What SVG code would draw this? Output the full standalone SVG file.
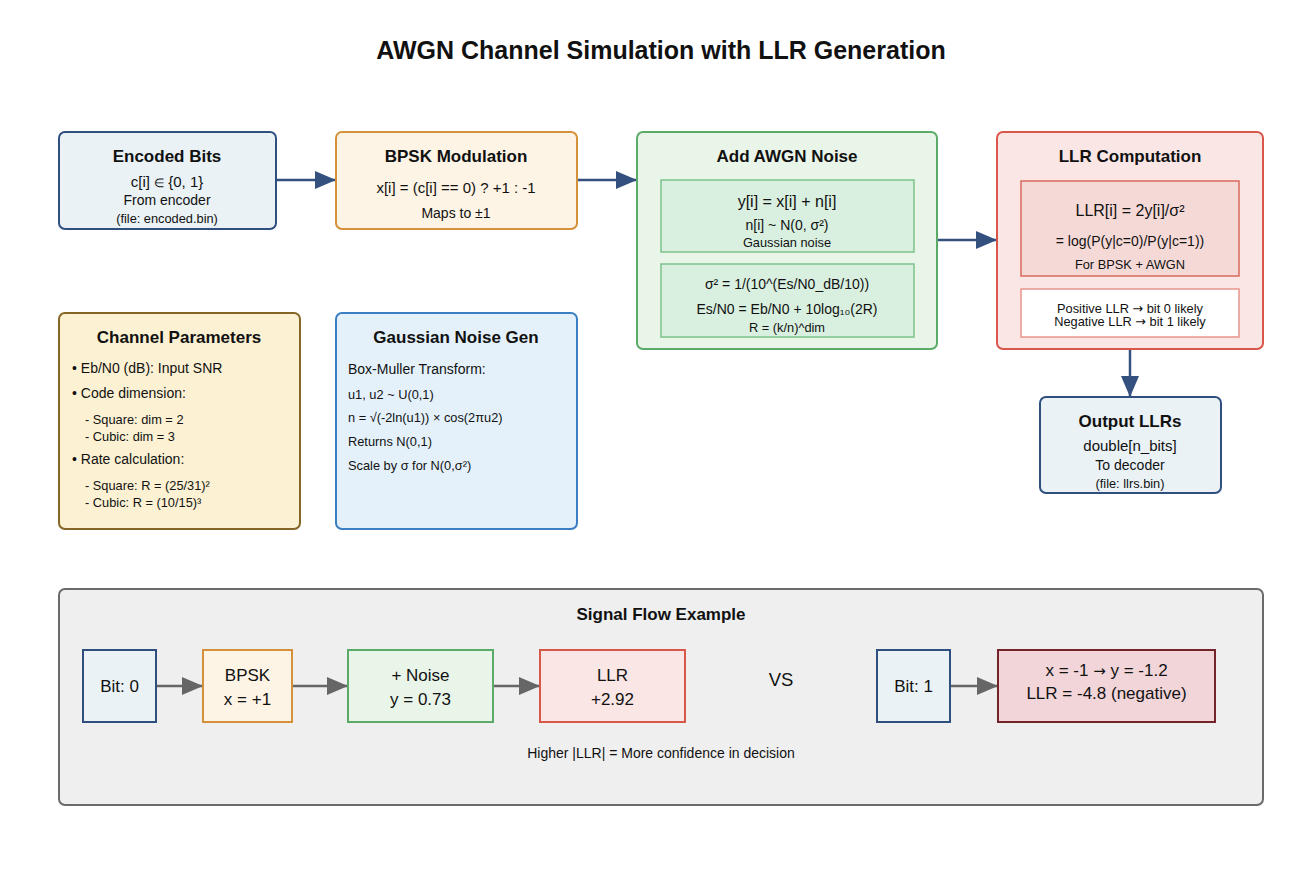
<svg xmlns="http://www.w3.org/2000/svg" width="1300" height="872" viewBox="0 0 1300 872">
<defs>
<style>
text{font-family:"Liberation Sans",Arial,sans-serif;fill:#111;text-anchor:middle}
.t{font-weight:bold;font-size:17px}
.h{font-weight:bold;font-size:25px}
.m{font-size:15px}
.s{font-size:14px}
.xs{font-size:12.8px}
.b{font-size:16px}
.l{text-anchor:start}
.ar{font-family:"DejaVu Sans",sans-serif}
.blue{fill:#eaf2f6;stroke:#2f4f7f;stroke-width:2}
.orange{fill:#fdf4e5;stroke:#d4913a;stroke-width:2}
.green{fill:#eaf5e9;stroke:#5aab68;stroke-width:2}
.red{fill:#fae6e4;stroke:#d9574a;stroke-width:2}
.gin{fill:#d9f0e0;stroke:#7cc28a;stroke-width:1.5}
.rin{fill:#f5d9d6;stroke:#d96a5c;stroke-width:1.5}
.win{fill:#fff;stroke:#e8958a;stroke-width:1.5}
.yel{fill:#fcf1d3;stroke:#856626;stroke-width:2}
.lb{fill:#e4f1fb;stroke:#3a7fc4;stroke-width:2}
.big{fill:#efefef;stroke:#6a6a6a;stroke-width:2}
.dred{fill:#f2d5d8;stroke:#74232a;stroke-width:2}
.c1{stroke:#34507f;stroke-width:2.5;fill:none}
.c2{stroke:#666;stroke-width:2.5;fill:none}
.f{font-size:17px}
</style>
<marker id="ab" markerUnits="userSpaceOnUse" markerWidth="22" markerHeight="18" refX="21" refY="9" orient="auto"><path d="M0,0 L21,9 L0,18 Z" fill="#34507f"/></marker>
<marker id="ag" markerUnits="userSpaceOnUse" markerWidth="22" markerHeight="18" refX="21" refY="9" orient="auto"><path d="M0,0 L21,9 L0,18 Z" fill="#666"/></marker>
</defs>
<rect width="1300" height="872" fill="#fff"/>
<text class="h" x="661" y="59">AWGN Channel Simulation with LLR Generation</text>

<g id="example">
<rect class="big" x="59" y="589" width="1204" height="216" rx="6"/>
<text x="661" y="620" style="font-weight:bold;font-size:17px">Signal Flow Example</text>
<text class="s" x="661" y="758">Higher |LLR| = More confidence in decision</text>
<text x="781" y="686" style="font-size:18.5px">VS</text>
</g>

<g id="connectors">
<line class="c1" x1="276" y1="180" x2="336" y2="180" marker-end="url(#ab)"/>
<line class="c1" x1="577" y1="180" x2="637" y2="180" marker-end="url(#ab)"/>
<line class="c1" x1="937" y1="240" x2="997" y2="240" marker-end="url(#ab)"/>
<line class="c1" x1="1130" y1="349" x2="1130" y2="397" marker-end="url(#ab)"/>
<line class="c2" x1="156" y1="686" x2="203" y2="686" marker-end="url(#ag)"/>
<line class="c2" x1="292" y1="686" x2="348" y2="686" marker-end="url(#ag)"/>
<line class="c2" x1="493" y1="686" x2="540" y2="686" marker-end="url(#ag)"/>
<line class="c2" x1="950" y1="686" x2="998" y2="686" marker-end="url(#ag)"/>
</g>

<g id="encoded">
<rect class="blue" x="59" y="132" width="217" height="97" rx="6"/>
<text class="t" x="167" y="162">Encoded Bits</text>
<text class="m" x="167" y="187">c[i] <tspan style="font-size:12px">∈</tspan> {0, 1}</text>
<text class="s" x="167" y="205">From encoder</text>
<text class="xs" x="167" y="223">(file: encoded.bin)</text>
</g>

<g id="bpsk">
<rect class="orange" x="336" y="132" width="241" height="97" rx="6"/>
<text class="t" x="456" y="162">BPSK Modulation</text>
<text class="m" x="456" y="193">x[i] = (c[i] == 0) ? +1 : -1</text>
<text class="s" x="456" y="218">Maps to ±1</text>
</g>

<g id="awgn">
<rect class="green" x="637" y="132" width="300" height="217" rx="6"/>
<text class="t" x="787" y="162">Add AWGN Noise</text>
<rect class="gin" x="661" y="180" width="253" height="72"/>
<text class="b" x="787" y="207">y[i] = x[i] + n[i]</text>
<text class="s" x="787" y="230">n[i] ~ N(0, σ²)</text>
<text class="xs" x="787" y="247">Gaussian noise</text>
<rect class="gin" x="661" y="264" width="253" height="73"/>
<text class="s" x="787" y="289">σ² = 1/(10^(Es/N0_dB/10))</text>
<text class="s" x="787" y="314">Es/N0 = Eb/N0 + 10log₁₀(2R)</text>
<text class="xs" x="787" y="332">R = (k/n)^dim</text>
</g>

<g id="llr">
<rect class="red" x="997" y="132" width="266" height="217" rx="6"/>
<text class="t" x="1130" y="162">LLR Computation</text>
<rect class="rin" x="1021" y="181" width="218" height="95"/>
<text class="b" x="1130" y="216">LLR[i] = 2y[i]/σ²</text>
<text class="s" x="1130" y="246">= log(P(y|c=0)/P(y|c=1))</text>
<text class="xs" x="1130" y="269">For BPSK + AWGN</text>
<rect class="win" x="1021" y="289" width="218" height="48"/>
<text class="xs" x="1130" y="313">Positive LLR <tspan class="ar">→</tspan> bit 0 likely</text>
<text class="xs" x="1130" y="326">Negative LLR <tspan class="ar">→</tspan> bit 1 likely</text>
</g>

<g id="output">
<rect class="blue" x="1040" y="397" width="181" height="96" rx="6"/>
<text class="t" x="1130" y="427">Output LLRs</text>
<text class="m" x="1130" y="451">double[n_bits]</text>
<text class="s" x="1130" y="470">To decoder</text>
<text class="xs" x="1130" y="488">(file: llrs.bin)</text>
</g>

<g id="params">
<rect class="yel" x="59" y="313" width="241" height="216" rx="6"/>
<text class="t" x="179" y="343">Channel Parameters</text>
<text class="s l" x="72" y="373">• Eb/N0 (dB): Input SNR</text>
<text class="s l" x="72" y="398">• Code dimension:</text>
<text class="xs l" x="85" y="424">- Square: dim = 2</text>
<text class="xs l" x="85" y="441">- Cubic: dim = 3</text>
<text class="s l" x="72" y="464">• Rate calculation:</text>
<text class="xs l" x="85" y="490">- Square: R = (25/31)²</text>
<text class="xs l" x="85" y="507">- Cubic: R = (10/15)³</text>
</g>

<g id="gauss">
<rect class="lb" x="336" y="313" width="241" height="216" rx="6"/>
<text class="t" x="456" y="343">Gaussian Noise Gen</text>
<text class="s l" x="348" y="374">Box-Muller Transform:</text>
<text class="xs l" x="348" y="399">u1, u2 ~ U(0,1)</text>
<text class="xs l" x="348" y="422">n = √(-2ln(u1)) × cos(2πu2)</text>
<text class="xs l" x="348" y="446">Returns N(0,1)</text>
<text class="xs l" x="348" y="470">Scale by σ for N(0,σ²)</text>
</g>

<g id="bit0">
<rect class="blue" x="83" y="650" width="73" height="72"/>
<text class="f" x="119.5" y="692">Bit: 0</text>
</g>
<g id="ebpsk">
<rect class="orange" x="203" y="650" width="89" height="72"/>
<text class="f" x="247.5" y="681">BPSK</text>
<text class="f" x="247.5" y="705">x = +1</text>
</g>
<g id="enoise">
<rect class="green" x="348" y="650" width="145" height="72"/>
<text class="f" x="420.5" y="681">+ Noise</text>
<text class="f" x="420.5" y="705">y = 0.73</text>
</g>
<g id="ellr">
<rect class="red" x="540" y="650" width="145" height="72"/>
<text class="f" x="612.5" y="681">LLR</text>
<text class="f" x="612.5" y="705">+2.92</text>
</g>
<g id="bit1">
<rect class="blue" x="877" y="650" width="73" height="72"/>
<text class="f" x="913.5" y="692">Bit: 1</text>
</g>
<g id="eneg">
<rect class="dred" x="998" y="650" width="217" height="72"/>
<text class="f" x="1106.5" y="676">x = -1 <tspan class="ar" style="font-size:15px">→</tspan> y = -1.2</text>
<text class="f" x="1106.5" y="699">LLR = -4.8 (negative)</text>
</g>
</svg>
